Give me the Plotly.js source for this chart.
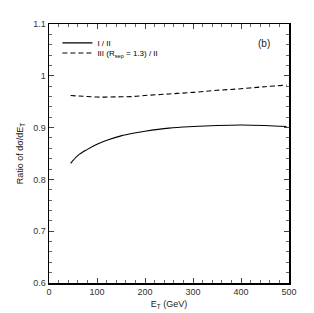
<!DOCTYPE html>
<html><head><meta charset="utf-8">
<script src="https://cdn.plot.ly/plotly-3.0.1.min.js"></script>
<style>html,body{margin:0;padding:0;background:#fff}</style>
</head><body>
<div id="chart" style="width:314px;height:313px"></div>
<script>
const ET = [45, 60, 80, 100, 125, 150, 175, 200, 250, 300, 350, 400, 450, 495];
const ratioI_II = [0.831, 0.846, 0.858, 0.868, 0.877, 0.884, 0.889, 0.893, 0.899, 0.902, 0.904, 0.905, 0.904, 0.902];
const ratioIII_II = [0.962, 0.961, 0.960, 0.959, 0.959, 0.9595, 0.960, 0.962, 0.965, 0.968, 0.972, 0.975, 0.979, 0.982];
const names = ["I / II", "III (R<sub>sep</sub> = 1.3) / II"];
const xTicks = [0, 100, 200, 300, 400, 500];
const yTicks = [0.6, 0.7, 0.8, 0.9, 1, 1.1];

const font = {family: "Liberation Sans, Arial, sans-serif", size: 9, color: "#333"};
const axisCommon = {
  showgrid: false, zeroline: false, showline: true, linecolor: "#000", linewidth: 1.5,
  mirror: "allticks", ticks: "inside", ticklen: 5, tickwidth: 1, tickcolor: "#444",
  tickfont: font
};
const legFont = {family: font.family, size: 8, color: "#000"};
const data = [
  {x: ET, y: ratioI_II, mode: "lines", name: names[0], legend: "legend", line: {color: "#000", width: 1.1, shape: "spline"}},
  {x: ET, y: ratioIII_II, mode: "lines", name: names[1], legend: "legend2", line: {color: "#000", width: 1.1, dash: "5px,3px", shape: "spline"}}
];
const layout = {
  width: 314, height: 313,
  margin: {l: 49, r: 25, t: 24, b: 30},
  paper_bgcolor: "#fff", plot_bgcolor: "#fff",
  font: font,
  showlegend: true,
  legend: {x: 0.035, y: 0.927, xanchor: "left", yanchor: "middle", bgcolor: "rgba(0,0,0,0)", font: legFont, itemwidth: 30},
  legend2: {x: 0.035, y: 0.888, xanchor: "left", yanchor: "middle", bgcolor: "rgba(0,0,0,0)", font: legFont, itemwidth: 30},
  xaxis: Object.assign({}, axisCommon, {
    range: [0, 500], tickvals: xTicks, ticktext: xTicks.map(String),
    minor: {dtick: 20, ticklen: 3, ticks: "inside", tickcolor: "#666"},
    title: {text: "E<sub>T</sub> (GeV)", font: {family: font.family, size: 9, color: "#222"}, standoff: 4}
  }),
  yaxis: Object.assign({}, axisCommon, {
    range: [0.6, 1.1], tickvals: yTicks, ticktext: yTicks.map(String),
    minor: {dtick: 0.02, ticklen: 3, ticks: "inside", tickcolor: "#666"},
    title: {text: "Ratio of dσ/dE<sub>T</sub>", font: {family: font.family, size: 9, color: "#222"}, standoff: 8}
  }),
  annotations: [{text: "(b)", xref: "paper", yref: "paper", x: 0.93, y: 0.955, showarrow: false, font: {family: font.family, size: 10, color: "#222"}}]
};
Plotly.newPlot("chart", data, layout, {staticPlot: true, displayModeBar: false});
</script>
</body></html>
